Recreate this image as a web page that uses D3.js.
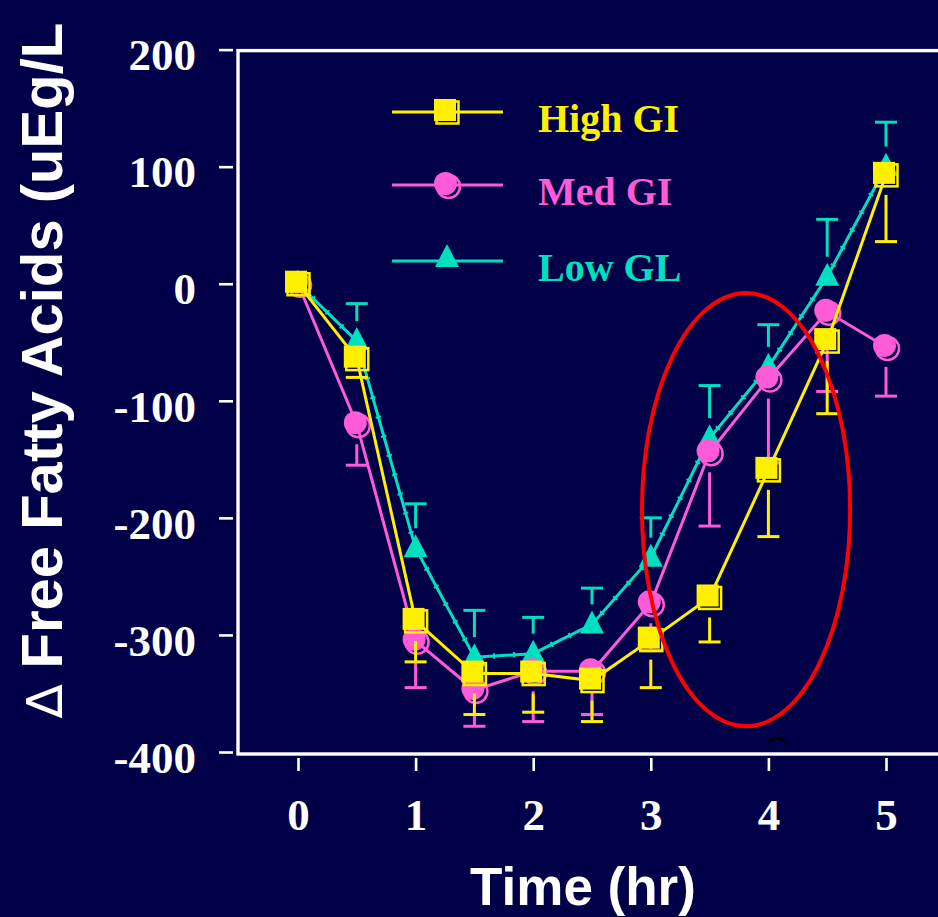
<!DOCTYPE html>
<html><head><meta charset="utf-8">
<script src="https://cdn.jsdelivr.net/npm/d3@7"></script>
<style>html,body{margin:0;padding:0;background:#000048;overflow:hidden}</style>
</head><body><svg id="c" width="938" height="917"></svg>
<script>
// ---- data ----
const times = [0, 0.5, 1, 1.5, 2, 2.5, 3, 3.5, 4, 4.5, 5];
const highGI    = [0, -64, -288, -333, -333, -339, -304, -268, -159, -49, 93];
const highGIErr = [0, -16, -35, -35, -33, -35, -41, -38, -57, -62, -57];
const medGI     = [0, -120, -305, -347, -331, -331, -273, -144, -81, -24, -54];
const medGIErr  = [0, -35, -40, -31, -43, -37, -40, -63, -72, -68, -42];
const lowGL     = [0, -49, -226, -319, -316, -291, -234, -132, -71, 6, 100];
const lowGLErr  = [0, 32, 38, 40, 31, 31, 34, 45, 36, 49, 38];
const seriesNames = ["High GI", "Med GI", "Low GL"];
const yTicks = [200, 100, 0, -100, -200, -300, -400];
const xTicks = [0, 1, 2, 3, 4, 5];
const ellipseNote = {t: 3.81, v: -193, dt: 0.885, dv: 185};

// ---- styling ----
const BG = "#000048", WHITE = "#ffffff";
const COLORS = {"High GI": "#fff000", "Med GI": "#ff5ad8", "Low GL": "#00e0c0"};
const SERIF = "'Liberation Serif','Times New Roman',serif";
const SANS = "'Liberation Sans',Arial,sans-serif";
const LW = 3;

const svg = d3.select("#c");
svg.append("rect").attr("width", 938).attr("height", 917).attr("fill", BG);

const x = d3.scaleLinear().domain([0, 5]).range([298, 886]);
const y = d3.scaleLinear().domain([-400, 200]).range([752, 49.6]);

// frame
svg.append("rect").attr("x", 238).attr("y", y(200) + 1).attr("width", 800)
  .attr("height", y(-400) - y(200) + 1).attr("fill", "none")
  .attr("stroke", WHITE).attr("stroke-width", 3.4);

// y axis ticks + labels
const yAxis = d3.axisLeft(y).tickValues(yTicks).tickSize(0).tickFormat(d3.format("d"));
const gy = svg.append("g").attr("transform", "translate(233,0)").call(yAxis);
gy.select(".domain").remove();
gy.selectAll(".tick").append("line").attr("x1", 0).attr("x2", -14)
  .attr("stroke", WHITE).attr("stroke-width", 2.6);
gy.selectAll(".tick text").attr("x", -37).attr("dy", "0.45em")
  .attr("fill", WHITE).style("font-family", SERIF).style("font-weight", "bold")
  .style("font-size", "45px").text(d => d < 0 ? "-" + Math.abs(d) : d);

// x axis ticks + labels
const xAxis = d3.axisBottom(x).tickValues(xTicks).tickSize(0).tickFormat(d3.format("d"));
const gx = svg.append("g").attr("transform", "translate(0,758)").call(xAxis);
gx.select(".domain").remove();
gx.selectAll(".tick").append("line").attr("y1", 0).attr("y2", 13)
  .attr("stroke", WHITE).attr("stroke-width", 2.6);
gx.selectAll(".tick text").attr("y", 72).attr("dy", 0)
  .attr("fill", WHITE).style("font-family", SERIF).style("font-weight", "bold")
  .style("font-size", "45px");

// axis titles
svg.append("text").attr("x", 583).attr("y", 905).attr("text-anchor", "middle")
  .attr("fill", WHITE).style("font-family", SANS).style("font-weight", "bold")
  .style("font-size", "53px").text("Time (hr)");
const yt = svg.append("text").attr("transform", "translate(62,718) rotate(-90)")
  .attr("fill", WHITE);
yt.append("tspan").style("font-family", "'DejaVu Sans',sans-serif").style("font-size", "50px")
  .text("\u2206");
yt.append("tspan").style("font-family", SANS).style("font-weight", "bold")
  .style("font-size", "58px").text(" Free Fatty Acids (uEg/L");

// small artifact arc near x-axis
svg.append("path")
  .attr("d", `M${x(4.0)},${y(-392)} Q${x(4.08)},${y(-385)} ${x(4.15)},${y(-392)}`)
  .attr("fill", "none").attr("stroke", "#000").attr("stroke-width", 2.5);

// ---- markers ----
function drawMarker(g, name, cx, cy) {
  const c = COLORS[name];
  if (name === "High GI") {
    g.append("rect").attr("x", cx - 10.5).attr("y", cy - 10.5).attr("width", 22).attr("height", 22)
      .attr("fill", "none").attr("stroke", c).attr("stroke-width", 2.5);
    g.append("rect").attr("x", cx - 13).attr("y", cy - 13).attr("width", 22).attr("height", 22)
      .attr("fill", c);
  } else if (name === "Med GI") {
    g.append("circle").attr("cx", cx + 1.5).attr("cy", cy + 1.5).attr("r", 11.5)
      .attr("fill", "none").attr("stroke", c).attr("stroke-width", 2.5);
    g.append("circle").attr("cx", cx - 1.5).attr("cy", cy - 1.5).attr("r", 11.5).attr("fill", c);
  } else {
    g.append("path").attr("d", `M${cx},${cy - 14} L${cx + 12},${cy + 9} L${cx - 12},${cy + 9}Z`)
      .attr("fill", c);
  }
}

const series = [
  {name: "Low GL", vals: lowGL, err: lowGLErr},
  {name: "Med GI", vals: medGI, err: medGIErr},
  {name: "High GI", vals: highGI, err: highGIErr}
];
const line = d3.line().x(d => x(d.t)).y(d => y(d.v));
const GAP = 20;

series.forEach(s => {
  const c = COLORS[s.name];
  const pts = times.map((t, i) => ({t, v: s.vals[i], e: s.err[i]}));
  const g = svg.append("g");
  // error bars
  pts.forEach(p => {
    if (!p.e) return;
    const cy = y(p.v), ey = y(p.v + p.e), dir = ey > cy ? 1 : -1;
    const sy = cy + dir * GAP;
    if ((ey - sy) * dir > 0) {
      g.append("line").attr("x1", x(p.t)).attr("x2", x(p.t)).attr("y1", sy).attr("y2", ey)
        .attr("stroke", c).attr("stroke-width", LW);
    }
    g.append("line").attr("x1", x(p.t) - 11).attr("x2", x(p.t) + 11).attr("y1", ey).attr("y2", ey)
      .attr("stroke", c).attr("stroke-width", LW);
  });
  g.append("path").datum(pts).attr("d", line).attr("fill", "none")
    .attr("stroke", c).attr("stroke-width", LW);
  if (s.name === "Low GL") {
    g.append("path").datum(pts).attr("d", line).attr("fill", "none")
      .attr("stroke", c).attr("stroke-width", 5.5).attr("stroke-dasharray", "2 18");
  }
  pts.forEach(p => drawMarker(g, s.name, x(p.t), y(p.v)));
});

// annotation ellipse
svg.append("ellipse").attr("cx", x(ellipseNote.t)).attr("cy", y(ellipseNote.v))
  .attr("rx", x(ellipseNote.t + ellipseNote.dt) - x(ellipseNote.t))
  .attr("ry", y(ellipseNote.v - ellipseNote.dv) - y(ellipseNote.v))
  .attr("fill", "none").attr("stroke", "#ff0000").attr("stroke-width", 4);

// legend
const legY = [112, 185, 261];
seriesNames.forEach((n, i) => {
  const g = svg.append("g");
  g.append("line").attr("x1", 392).attr("x2", 503).attr("y1", legY[i]).attr("y2", legY[i])
    .attr("stroke", COLORS[n]).attr("stroke-width", LW);
  drawMarker(g, n, 447, legY[i] + (n === "Low GL" ? -3 : 0));
  g.append("text").attr("x", 538).attr("y", legY[i] + 20)
    .attr("fill", COLORS[n]).style("font-family", SERIF).style("font-weight", "bold")
    .style("font-size", "40px").text(n);
});
</script></body></html>
